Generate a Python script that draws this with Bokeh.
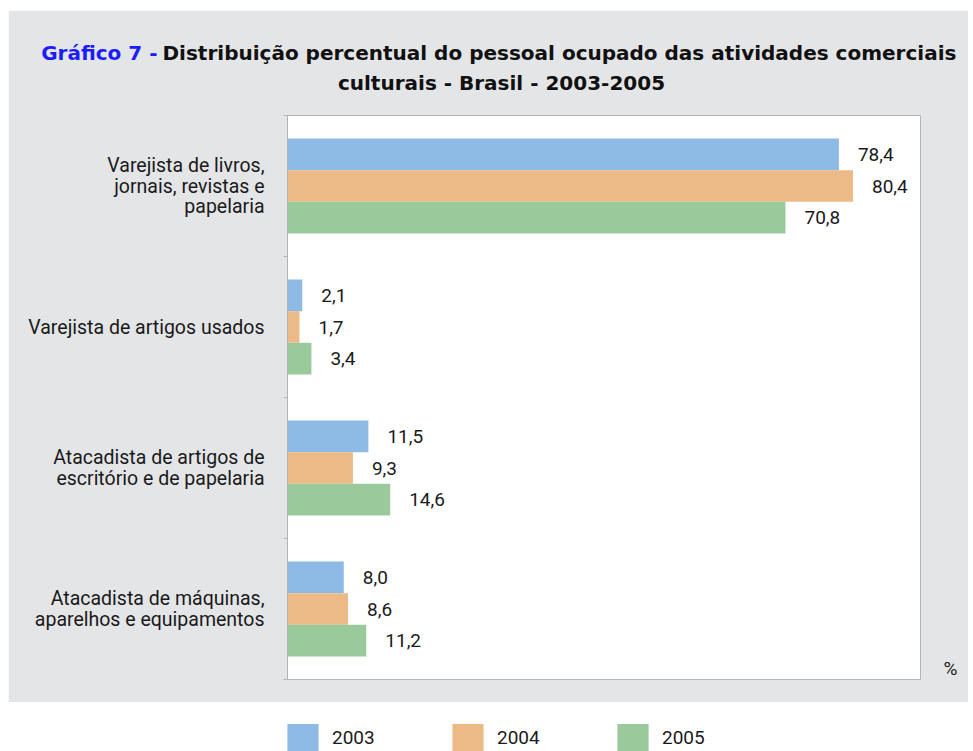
import numpy as np
from bokeh.plotting import figure
from bokeh.models import ColumnDataSource, FixedTicker, Label, Legend, LegendItem, Range1d, Spacer
from bokeh.layouts import column, row
from bokeh.embed import file_html
from bokeh.resources import INLINE
from bokeh.core.properties import value

categories = ["Varejista de livros,\njornais, revistas e\npapelaria",
              "Varejista de artigos usados",
              "Atacadista de artigos de\nescritório e de papelaria",
              "Atacadista de máquinas,\naparelhos e equipamentos"]
years = ["2003", "2004", "2005"]
v2003 = [78.4, 2.1, 11.5, 8.0]
v2004 = [80.4, 1.7, 9.3, 8.6]
v2005 = [70.8, 3.4, 14.6, 11.2]
series = [v2003, v2004, v2005]
colors = ["#8ebbe6", "#ecba87", "#9ac99c"]

title_blue = "Gráfico 7 -"
title_line1 = "Distribuição percentual do pessoal ocupado das atividades comerciais"
title_line2 = "culturais - Brasil - 2003-2005"
unit_label = "%"

GREY = "#e4e5e7"
FONT = "Roboto"
TFONT = "DejaVu Sans"

n = len(categories)
centers = n - 0.5 - np.arange(n)
bar_h = 0.225
offsets = [bar_h, 0.0, -bar_h]

W = 960
H = 692
p = figure(width=W, height=H, x_range=Range1d(0, 90), y_range=Range1d(0, n),
           output_backend="svg", toolbar_location=None,
           min_border_left=279, min_border_right=48, min_border_top=105, min_border_bottom=23)
p.border_fill_color = GREY
p.background_fill_color = "white"
p.outline_line_color = "#b4b4b4"
p.xgrid.visible = False
p.ygrid.visible = False
p.xaxis.visible = False

yax = p.yaxis[0]
yax.ticker = FixedTicker(ticks=list(centers), minor_ticks=list(range(n + 1)))
yax.major_label_overrides = {float(c): lab for c, lab in zip(centers, categories)}
yax.major_tick_line_color = None
yax.major_tick_out = 0
yax.major_tick_in = 0
yax.minor_tick_out = 4
yax.minor_tick_in = 0
yax.minor_tick_line_color = "#b4b4b4"
yax.axis_line_color = "#b4b4b4"
yax.major_label_standoff = 19
yax.major_label_text_font = FONT
yax.major_label_text_font_size = "19.5px"
yax.major_label_text_color = "#1a1a1a"
yax.major_label_text_line_height = 0.9

for vals, off, col, yr in zip(series, offsets, colors, years):
    src = ColumnDataSource(dict(y=centers + off, x=vals,
                                lab=[f"{v:.1f}".replace(".", ",") for v in vals]))
    p.hbar(y="y", right="x", left=0, height=bar_h, source=src,
           fill_color=col, line_color=None)
    p.text(x="x", y="y", text="lab", source=src, x_offset=19,
           text_baseline="middle", text_align="left",
           text_font=value(FONT), text_font_size="19px", text_color="#1a1a1a")

# Canvas coordinates of this figure (figure origin at page x=8, y=10)
def cx(px):
    return px - 8
def cy(py):
    return py - 10

common = dict(x_units="canvas", y_units="canvas", text_baseline="middle",
              text_font=TFONT, text_font_style="bold", text_font_size="20px")
p.add_layout(Label(x=cx(157), y=cy(52), text=title_blue, text_align="right",
                   text_color="#1c1cff", **common), "above")
p.add_layout(Label(x=cx(162), y=cy(52), text=title_line1, text_align="left",
                   text_color="#111111", **common), "above")
p.add_layout(Label(x=cx(501), y=cy(82), text=title_line2, text_align="center",
                   text_color="#111111", **common), "above")
p.add_layout(Label(x=cx(950), y=cy(668), x_units="canvas", y_units="canvas",
                   text=unit_label, text_align="center", text_baseline="middle",
                   text_font=FONT, text_font_size="19px", text_color="#1a1a1a"), "right")

# legend figure (its frame is aligned with the main frame by the column layout)
lg = figure(width=W, height=49, x_range=Range1d(0, 1), y_range=Range1d(0, 1),
            output_backend="svg", toolbar_location=None,
            min_border_left=279, min_border_right=48,
            min_border_top=0, min_border_bottom=0)
lg.axis.visible = False
lg.grid.visible = False
lg.outline_line_color = None
lg.border_fill_color = "white"
lg.background_fill_color = "white"
items = []
for vals, off, col, yr in zip(series, offsets, colors, years):
    r = lg.hbar(y=centers + off, right=vals, left=0, height=bar_h,
                fill_color=col, line_color=None, visible=False)
    items.append(LegendItem(label=yr, renderers=[r]))
legend = Legend(items=items, orientation="horizontal", location=(-4, -4),
                glyph_width=39, glyph_height=35, label_standoff=10,
                label_width=116, spacing=0, padding=0, margin=0,
                border_line_color=None, background_fill_alpha=0,
                inactive_fill_alpha=0,
                label_text_font=FONT, label_text_font_size="19px",
                label_text_color="#1a1a1a")
lg.add_layout(legend, "center")

layout = row(Spacer(width=8), column(Spacer(height=10), p, lg, spacing=0), spacing=0)
open("out.html", "w").write(file_html(layout, INLINE))
